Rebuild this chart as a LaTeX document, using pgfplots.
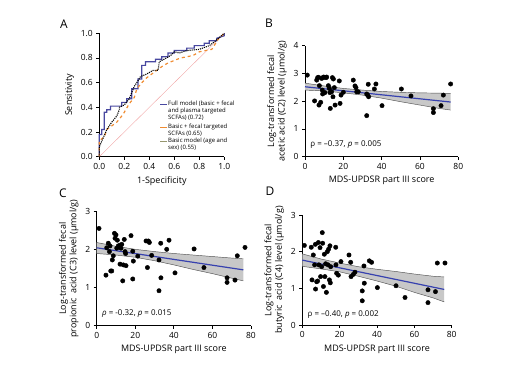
\documentclass[border=0pt]{standalone}
\usepackage{fontspec}
\setmainfont{Open Sans}
\usepackage{pgfplots}
\pgfplotsset{compat=1.18}
\usepgfplotslibrary{fillbetween}
\definecolor{fullblue}{RGB}{72,72,160}
\definecolor{basicorange}{RGB}{240,140,50}
\definecolor{diag}{RGB}{240,165,165}
\definecolor{regblue}{RGB}{55,65,175}
\definecolor{bandfill}{RGB}{200,200,200}
\definecolor{bandedge}{RGB}{80,80,80}
\definecolor{olivegray}{RGB}{150,150,110}
\pgfplotsset{
  myax/.style={scale only axis, anchor=south west, axis lines=left,
    axis line style={-, line width=0.7pt, black},
    tick align=outside, tick style={black, line width=0.7pt}, major tick length=3bp,
    tick label style={font=\fontsize{8.5}{9}\selectfont},
    label style={font=\fontsize{9}{10.5}\selectfont},
    /pgf/number format/assume math mode=true, clip=false},
  scat/.style={only marks, mark=*, mark size=2.2bp, black},
  reg/.style={regblue, line width=1.2pt},
  edge/.style={bandedge, line width=0.45pt},
}
\begin{document}
\begin{tikzpicture}
% Panel A
\begin{axis}[myax, at={(99.3bp,209.3bp)}, width=125bp, height=123.4bp,
  xmin=0, xmax=1, ymin=0, ymax=1,
  xtick={0,0.2,0.4,0.6,0.8,1}, xticklabels={0.0,0.2,0.4,0.6,0.8,1.0},
  ytick={0,0.2,0.4,0.6,0.8,1}, yticklabels={0.0,0.2,0.4,0.6,0.8,1.0},
  xlabel={1-Specificity}, ylabel={Sensitivity}]
\addplot[diag, line width=0.4pt] coordinates {(0,0) (1,1)};
\addplot[fullblue, line width=1.2pt] coordinates {
(0,0) (0,0.18) (0.02,0.18) (0.02,0.22) (0.04,0.22) (0.04,0.36) (0.06,0.36) (0.06,0.38)
(0.09,0.38) (0.09,0.41) (0.18,0.41) (0.18,0.44) (0.22,0.44) (0.22,0.47) (0.26,0.47)
(0.26,0.55) (0.31,0.55) (0.31,0.63) (0.34,0.63) (0.34,0.74) (0.37,0.74) (0.37,0.77)
(0.45,0.77) (0.45,0.79) (0.5,0.79) (0.5,0.81) (0.55,0.81) (0.55,0.84) (0.6,0.84)
(0.6,0.86) (0.7,0.86) (0.7,0.88) (0.76,0.88) (0.76,0.90) (0.84,0.90) (0.84,0.92)
(0.88,0.92) (0.88,0.94) (0.94,0.94) (0.94,0.96) (1,0.98) (1,1)};
\addplot[basicorange, line width=1.2pt, dashed] coordinates {
(0,0) (0,0.13) (0.04,0.16) (0.06,0.22) (0.1,0.25) (0.14,0.28) (0.18,0.33) (0.2,0.36)
(0.24,0.43) (0.28,0.48) (0.3,0.55) (0.34,0.60) (0.38,0.64) (0.42,0.67) (0.46,0.70)
(0.5,0.73) (0.55,0.76) (0.6,0.78) (0.65,0.80) (0.75,0.82) (0.8,0.85) (0.9,0.87)
(0.95,0.95) (1,1)};
\addplot[black, line width=1.1pt, densely dotted] coordinates {
(0,0) (0,0.08) (0.03,0.15) (0.06,0.22) (0.1,0.28) (0.14,0.33) (0.16,0.38) (0.16,0.40)
(0.2,0.42) (0.24,0.47) (0.28,0.57) (0.3,0.6) (0.33,0.65) (0.38,0.67) (0.43,0.7)
(0.47,0.7) (0.48,0.77) (0.52,0.79) (0.57,0.82) (0.6,0.85) (0.64,0.84) (0.7,0.86)
(0.8,0.87) (0.88,0.9) (0.92,0.93) (1,1)};
\end{axis}
% legend of panel A
\begin{scope}[every node/.style={anchor=north west, inner sep=0pt, align=left,
    font=\fontsize{6}{7.2}\selectfont}]
\draw[fullblue, line width=1.2pt] (160bp,261.7bp) -- (166.5bp,261.7bp);
\node at (168bp,265.4bp) {Full model (basic + fecal\\and plasma targeted\\SCFAs) (0.72)};
\draw[basicorange, line width=1.2pt] (160bp,238.3bp) -- (166.5bp,238.3bp);
\node at (168bp,242bp) {Basic + fecal targeted\\SCFAs (0.65)};
\draw[olivegray, line width=1.2pt] (160bp,224.3bp) -- (166.5bp,224.3bp);
\node at (168bp,228bp) {Basic model (age and\\sex) (0.55)};
\end{scope}
% Panel B
\begin{axis}[myax, at={(305bp,209.3bp)}, width=153.3bp, height=111bp,
  xmin=0, xmax=80, ymin=0, ymax=4, xtick={0,20,40,60,80}, ytick={0,1,2,3,4},
  xlabel={MDS-UPDSR part III score},
  ylabel={Log-transformed fecal\\acetic acid (C2) level (µmol/g)}, ylabel style={align=center}]
\addplot[edge, name path=upB] coordinates {(0,2.65) (10,2.55) (20,2.46) (30,2.40) (40,2.35) (50,2.32) (60,2.30) (70,2.29) (76,2.28)};
\addplot[edge, name path=loB] coordinates {(0,2.40) (10,2.37) (20,2.30) (30,2.22) (40,2.11) (50,1.98) (60,1.86) (70,1.74) (76,1.68)};
\addplot[bandfill] fill between[of=upB and loB];
\addplot[scat] coordinates {
(1.2,2.94) (5.0,2.01) (6.1,2.76) (6.6,2.85) (7.1,2.86) (7.5,2.56) (7.3,1.86) (8.2,1.96)
(8.7,2.82) (9.0,2.40) (9.2,2.26) (9.6,2.87) (10.1,2.86) (10.4,2.31) (11.0,2.85) (11.3,2.87)
(12.2,2.56) (12.7,2.46) (13.0,2.31) (13.2,1.74) (13.9,2.34) (14.3,2.85) (14.6,2.16) (14.8,2.80)
(15.3,2.49) (15.7,1.86) (17.9,2.73) (18.3,1.92) (18.8,2.22) (20.0,2.32) (25.2,2.76) (26.1,2.55)
(26.6,2.49) (27.0,2.34) (27.8,2.34) (32.2,2.26) (32.7,2.22) (33.0,2.61) (33.2,2.16) (32.2,1.48)
(36.2,2.44) (37.0,2.62) (40.2,1.84) (50.3,2.44) (55.3,2.19) (67.0,1.73) (67.0,1.59) (71.0,1.84)
(72.2,2.22) (76.0,2.62)};
\addplot[reg] coordinates {(0,2.52) (76,1.97)};
\node[anchor=west, font=\fontsize{8}{9}\selectfont] at (axis cs:1,0.42) {ρ = –0.37, \textit{p} = 0.005};
\end{axis}
% Panel C
\begin{axis}[myax, at={(96.7bp,40.3bp)}, width=154.3bp, height=114bp,
  xmin=0, xmax=80, ymin=0, ymax=3, xtick={0,20,40,60,80}, ytick={0,1,2,3},
  xlabel={MDS-UPDSR part III score},
  ylabel={Log-transformed fecal\\propionic\ \ acid (C3) level (µmol/g)}, ylabel style={align=center}]
\addplot[edge, name path=upC] coordinates {(0,2.19) (10,2.09) (20,2.01) (30,1.95) (40,1.90) (50,1.86) (60,1.82) (70,1.78) (76,1.76)};
\addplot[edge, name path=loC] coordinates {(0,1.90) (10,1.86) (20,1.80) (30,1.71) (40,1.60) (50,1.48) (60,1.37) (70,1.25) (76,1.18)};
\addplot[bandfill] fill between[of=upC and loC];
\addplot[scat] coordinates {
(1.2,2.56) (4.8,1.33) (5.2,2.05) (6.0,2.17) (6.6,1.95) (6.9,2.10) (7.3,1.44) (7.8,1.44)
(8.1,1.73) (8.6,1.84) (9.2,2.43) (9.5,2.30) (10.0,2.39) (10.4,2.04) (10.7,2.25) (11.2,2.10)
(11.7,2.07) (12.1,2.12) (12.6,2.04) (13.0,2.14) (12.1,1.62) (13.5,1.18) (13.8,1.60) (14.3,2.27)
(14.7,1.95) (15.0,1.90) (15.2,1.58) (17.8,2.37) (18.7,1.96) (18.7,1.23) (19.0,1.70) (21.3,1.83)
(25.6,2.23) (26.3,1.53) (26.8,2.23) (27.3,2.19) (28.5,1.85) (32.3,1.73) (32.3,0.92) (33.2,2.17)
(33.3,1.26) (36.3,2.01) (37.5,2.25) (40.6,1.39) (50.5,2.02) (55.6,1.53) (67.6,1.26) (67.6,1.14)
(71.7,1.20) (72.9,1.84) (76.9,2.06)};
\addplot[reg] coordinates {(0,2.05) (76,1.47)};
\node[anchor=west, font=\fontsize{8}{9}\selectfont] at (axis cs:1,0.31) {\textit{ρ} = -0.32, \textit{p} = 0.015};
\end{axis}
% Panel D
\begin{axis}[myax, at={(302.3bp,41bp)}, width=149.4bp, height=110bp,
  xmin=0, xmax=80, ymin=0, ymax=3, xtick={0,20,40,60,80}, ytick={0,1,2,3},
  xlabel={MDS-UPDSR part III score},
  ylabel={Log-transformed fecal\\butyric\ \ acid (C4) level (µmol/g)}, ylabel style={align=center}]
\addplot[edge, name path=upD] coordinates {(0,1.94) (10,1.80) (20,1.69) (30,1.59) (40,1.52) (50,1.46) (60,1.39) (70,1.33) (76,1.31)};
\addplot[edge, name path=loD] coordinates {(0,1.60) (10,1.53) (20,1.45) (30,1.33) (40,1.20) (50,1.06) (60,0.89) (70,0.74) (76,0.63)};
\addplot[bandfill] fill between[of=upD and loD];
\addplot[scat] coordinates {
(1.1,2.17) (4.8,2.12) (5.2,1.23) (5.9,1.91) (6.6,1.64) (7.0,2.20) (7.1,0.98) (7.7,1.18)
(8.2,1.20) (8.6,2.25) (8.9,1.64) (9.5,2.11) (9.8,1.32) (10.4,1.59) (10.7,2.52) (10.9,2.23)
(11.3,1.05) (11.8,1.93) (12.1,1.32) (12.5,1.67) (12.9,0.89) (13.4,2.00) (13.8,1.64) (14.1,2.07)
(14.5,1.23) (14.8,2.16) (15.0,1.15) (15.2,1.59) (17.9,2.12) (18.0,1.64) (18.4,1.41) (19.3,1.36)
(20.7,1.73) (25.0,1.91) (25.9,1.71) (26.1,1.32) (27.3,1.38) (28.2,1.44) (32.1,0.93) (32.1,0.66)
(33.0,1.61) (33.2,1.14) (35.9,1.75) (37.1,1.71) (40.2,1.02) (50.2,1.07) (55.0,0.75) (67.3,0.96)
(67.3,0.61) (71.3,0.91) (72.3,1.69) (76.4,1.69)};
\addplot[reg] coordinates {(0,1.77) (76,0.97)};
\node[anchor=west, font=\fontsize{8}{9}\selectfont] at (axis cs:1,0.28) {ρ = –0.40, \textit{p} = 0.002};
\end{axis}
% panel letters
\node[font=\fontsize{12}{12}\selectfont] at (64bp,342bp) {A};
\node[font=\fontsize{12}{12}\selectfont] at (269bp,343bp) {B};
\node[font=\fontsize{12}{12}\selectfont] at (63bp,173bp) {C};
\node[font=\fontsize{12}{12}\selectfont] at (270bp,175bp) {D};
\path (0,0) rectangle (517bp,366bp);
\end{tikzpicture}
\end{document}
